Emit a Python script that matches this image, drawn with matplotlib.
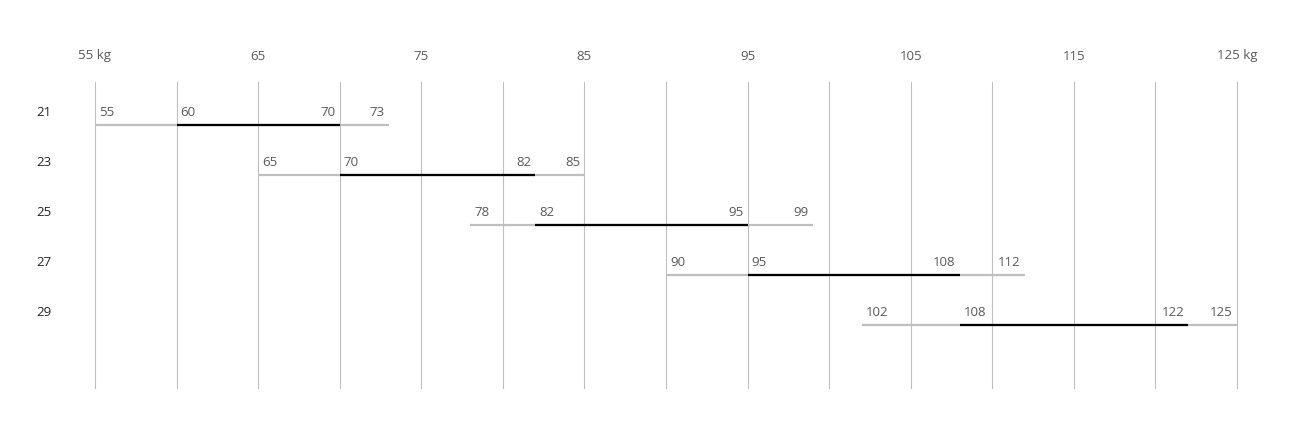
import matplotlib
matplotlib.use('Agg')
from matplotlib import pyplot as plt

plt.rcParams['font.family'] = ['Open Sans', 'DejaVu Sans']

ages = ['21', '23', '25', '27', '29']
outer_lo = [55, 65, 78, 90, 102]
inner_lo = [60, 70, 82, 95, 108]
inner_hi = [70, 82, 95, 108, 122]
outer_hi = [73, 85, 99, 112, 125]

grid_x = list(range(55, 126, 5))
tick_x = list(range(55, 126, 10))
tick_labels = ['55 kg', '65', '75', '85', '95', '105', '115', '125 kg']

W, H = 1312, 441
fig = plt.figure(figsize=(W / 100, H / 100), dpi=100)
ax = fig.add_axes([95 / W, (H - 388) / H, 1142 / W, 306 / H])
ax.set_xlim(55, 125)
ax.set_ylim(5.26, -0.86)
ax.axis('off')

GRID = '#bfbfbf'
TXT = '#595959'
PX = 0.72  # points per pixel at 100 dpi
FS = 9.5

for g in grid_x:
    ax.axvline(g, color=GRID, lw=0.8, zorder=1, clip_on=False)

# top scale labels
for t, lab in zip(tick_x, tick_labels):
    ax.annotate(lab, (t, -0.86), xytext=(0, 26 * PX), textcoords='offset points',
                ha='center', va='center', fontsize=FS, color=TXT, annotation_clip=False)

for i, age in enumerate(ages):
    ax.plot([outer_lo[i], outer_hi[i]], [i, i], color=GRID, lw=1.6, solid_capstyle='butt', zorder=2)
    ax.plot([inner_lo[i], inner_hi[i]], [i, i], color='black', lw=1.6, solid_capstyle='butt', zorder=3)
    # row label
    ax.annotate(age, (55, i), xytext=(-51 * PX, 13 * PX), textcoords='offset points',
                ha='center', va='center', fontsize=FS, color='#262626', annotation_clip=False)
    for v in (outer_lo[i], inner_lo[i]):
        ax.annotate(str(v), (v, i), xytext=(4 * PX, 13 * PX), textcoords='offset points',
                    ha='left', va='center', fontsize=FS, color=TXT)
    for v in (inner_hi[i], outer_hi[i]):
        ax.annotate(str(v), (v, i), xytext=(-4 * PX, 13 * PX), textcoords='offset points',
                    ha='right', va='center', fontsize=FS, color=TXT)

fig.savefig('out.png', dpi=100)
